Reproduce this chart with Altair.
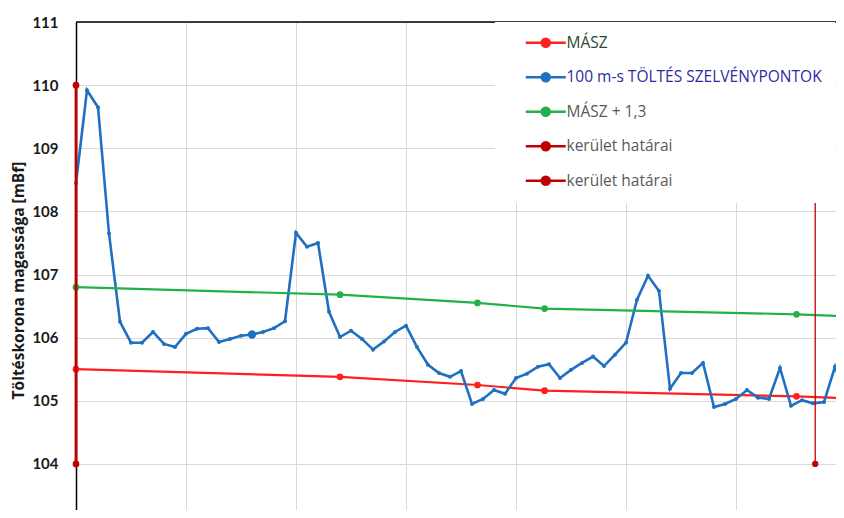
import altair as alt
import pandas as pd

# ---- data ----
crest_km = [i / 10 for i in range(71)]
crest_mbf = [108.45, 109.92, 109.65, 107.65, 106.25, 105.92, 105.92, 106.09, 105.90, 105.85,
             106.06, 106.14, 106.15, 105.93, 105.98, 106.03, 106.05, 106.09, 106.15, 106.26,
             107.66, 107.44, 107.50, 106.41, 106.01, 106.11, 105.98, 105.81, 105.94, 106.09,
             106.19, 105.85, 105.57, 105.44, 105.38, 105.47, 104.95, 105.03, 105.17, 105.11,
             105.36, 105.43, 105.54, 105.58, 105.36, 105.49, 105.60, 105.70, 105.55, 105.73,
             105.92, 106.60, 106.98, 106.74, 105.19, 105.44, 105.44, 105.60, 104.90, 104.95,
             105.03, 105.17, 105.05, 105.03, 105.52, 104.92, 105.01, 104.96, 104.98, 105.54,
             105.05]

masz_km = [0.0, 2.40, 3.65, 4.26, 6.55, 7.60]
masz_mbf = [105.50, 105.38, 105.25, 105.16, 105.07, 105.00]
masz13_mbf = [106.80, 106.68, 106.55, 106.46, 106.37, 106.30]

bound1_km = [0.0, 0.0]
bound2_km = [6.72, 6.72]
bound_mbf = [104.0, 110.0]

S_MASZ = "MÁSZ"
S_CREST = "100 m-s TÖLTÉS SZELVÉNYPONTOK"
S_MASZ13 = "MÁSZ + 1,3"
S_B1 = "kerület határai"
S_B2 = "kerület határai "   # second entry with identical visible text

series_order = [S_MASZ, S_CREST, S_MASZ13, S_B1, S_B2]
series_colors = ["#ff1f1f", "#1f70c1", "#22b04b", "#c00000", "#c00000"]

X_MAX = 6.909

# ---- build tables ----
rows = []
for k, v in zip(masz_km, masz_mbf):
    rows.append(dict(series=S_MASZ, km=k, mbf=v, sw=2.2, ps=45))
for i, (k, v) in enumerate(zip(crest_km, crest_mbf)):
    rows.append(dict(series=S_CREST, km=k, mbf=v, sw=2.6, ps=70 if i == 16 else 16))
for k, v in zip(masz_km, masz13_mbf):
    rows.append(dict(series=S_MASZ13, km=k, mbf=v, sw=2.2, ps=45))
main = pd.DataFrame(rows)

brows = []
for k, v in zip(bound1_km, bound_mbf):
    brows.append(dict(series=S_B1, km=k, mbf=v, sw=2.8, ps=45))
for k, v in zip(bound2_km, bound_mbf):
    brows.append(dict(series=S_B2, km=k, mbf=v, sw=1.3, ps=40))
bounds = pd.DataFrame(brows)

label_fill = ("datum.value === 'MÁSZ' ? '#2b472b' : "
              "datum.value === '100 m-s TÖLTÉS SZELVÉNYPONTOK' ? '#2c2ca0' : '#595959'")

color = alt.Color(
    "series:N",
    scale=alt.Scale(domain=series_order, range=series_colors),
    sort=series_order,
    legend=alt.Legend(
        title=None,
        orient="none",
        legendX=419,
        legendY=0,
        fillColor="white",
        padding=13,
        rowPadding=15.5,
        symbolType="M-4,0H4M0.8,0A0.8,0.8,0,1,1,-0.8,0A0.8,0.8,0,1,1,0.8,0Z",
        symbolSize=100,
        symbolStrokeWidth=2.5,
        symbolOffset=30,
        symbolFillColor=alt.ExprRef(expr="scale('color', datum.value)"),
        symbolStrokeColor=alt.ExprRef(expr="scale('color', datum.value)"),
        labelOffset=13,
        labelFont="Open Sans",
        labelFontSize=15.5,
        labelLimit=400,
        labelColor=alt.ExprRef(expr=label_fill),
    ),
)

x = alt.X(
    "km:Q",
    scale=alt.Scale(domain=[0, X_MAX], nice=False, zero=False),
    axis=alt.Axis(values=[0, 1, 2, 3, 4, 5, 6], labels=False, ticks=False, domain=False,
                  title=None, grid=True, gridColor="#d9d9d9", gridWidth=1),
)
y = alt.Y(
    "mbf:Q",
    scale=alt.Scale(domain=[103.27, 111], nice=False, zero=False),
    axis=alt.Axis(values=[104, 105, 106, 107, 108, 109, 110, 111], format="d", grid=True,
                  gridColor="#d9d9d9", gridWidth=1, ticks=False, domainColor="black",
                  domainWidth=1.5, labelFont="Lato", labelFontSize=15,
                  labelFontWeight="bold", labelColor="#1a1a1a", labelPadding=18,
                  labelOverlap=False,
                  title="Töltéskorona magassága [mBf]", titleFont="Open Sans",
                  titleFontSize=15.5, titleFontWeight="bold", titleColor="#1a1a1a",
                  titleX=-58, titleY=258, titleBaseline="middle"),
)

top_frame = alt.Chart(pd.DataFrame({"mbf": [111]})).mark_rule(
    color="black", strokeWidth=1.5).encode(y=alt.Y("mbf:Q"))

main_lines = alt.Chart(main).mark_line(clip=True).encode(
    x=x, y=y, color=color,
    strokeWidth=alt.StrokeWidth("sw:Q", scale=None, legend=None),
    order="km:Q",
)
main_points = alt.Chart(main).transform_filter(
    alt.datum.km <= X_MAX
).mark_point(filled=True, opacity=1).encode(
    x=x, y=y, color=color,
    size=alt.Size("ps:Q", scale=None, legend=None),
)
bound_lines = alt.Chart(bounds).mark_line().encode(
    x=x, y=y, color=color,
    strokeWidth=alt.StrokeWidth("sw:Q", scale=None, legend=None),
    order="mbf:Q",
)
bound_points = alt.Chart(bounds).mark_point(filled=True, opacity=1).encode(
    x=x, y=y, color=color,
    size=alt.Size("ps:Q", scale=None, legend=None),
)

chart = alt.layer(
    top_frame, main_lines, main_points, bound_lines, bound_points
).properties(
    width=760,
    height=488,
    autosize=alt.AutoSizeParams(type="none"),
    padding={"left": 68, "top": 14, "right": 0, "bottom": 0},
    background="white",
).configure_view(stroke=None)

chart.save("out.html", embed_options={"renderer": "svg", "actions": False})
